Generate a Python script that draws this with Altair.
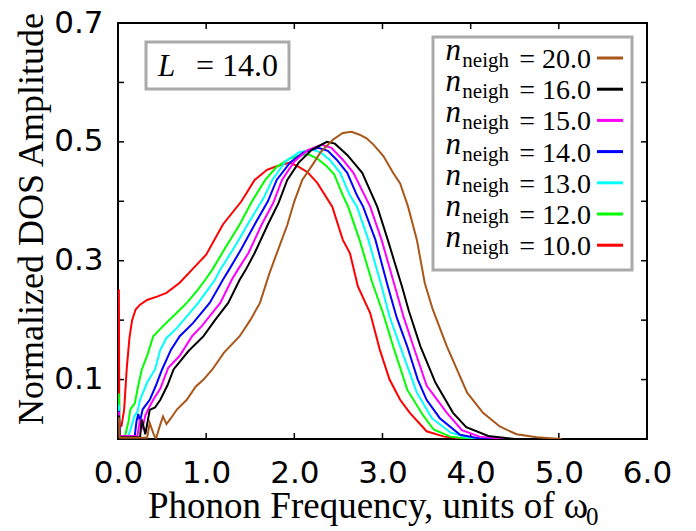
import altair as alt
import pandas as pd

# ---------------- data ----------------
X_N10 = [0.0, 0.01, 0.015, 0.04, 0.07, 0.10, 0.13, 0.16, 0.20, 0.25, 0.33, 0.45, 0.55, 0.70, 0.84, 1.0, 1.19, 1.4, 1.55, 1.69, 1.8, 1.95, 2.05, 2.15, 2.26, 2.43, 2.55, 2.63, 2.72, 2.86, 2.97, 3.08, 3.2, 3.31, 3.5, 3.7, 3.9, 4.1]
Y_N10 = [0.25, 0.25, 0.02, 0.022, 0.05, 0.12, 0.17, 0.20, 0.218, 0.226, 0.234, 0.24, 0.246, 0.263, 0.285, 0.31, 0.361, 0.40, 0.436, 0.453, 0.459, 0.465, 0.458, 0.449, 0.431, 0.391, 0.335, 0.313, 0.257, 0.212, 0.15, 0.100, 0.066, 0.044, 0.013, 0.004, 0.001, 0.0]

X_N12 = [0.0, 0.01, 0.02, 0.08, 0.12, 0.14, 0.19, 0.23, 0.27, 0.33, 0.40, 0.51, 0.67, 0.78, 0.90, 0.99, 1.07, 1.21, 1.38, 1.52, 1.67, 1.80, 1.95, 2.08, 2.16, 2.26, 2.36, 2.45, 2.55, 2.61, 2.74, 2.88, 3.01, 3.12, 3.2, 3.28, 3.46, 3.58, 3.77, 3.95, 4.2]
Y_N12 = [0.075, 0.075, 0.005, 0.005, 0.03, 0.05, 0.06, 0.09, 0.117, 0.14, 0.173, 0.19, 0.213, 0.229, 0.25, 0.268, 0.285, 0.32, 0.361, 0.40, 0.436, 0.458, 0.472, 0.478, 0.479, 0.472, 0.46, 0.446, 0.41, 0.391, 0.335, 0.265, 0.21, 0.156, 0.12, 0.083, 0.04, 0.016, 0.004, 0.001, 0.0]

X_N13 = [0.0, 0.01, 0.02, 0.12, 0.15, 0.19, 0.22, 0.25, 0.33, 0.42, 0.48, 0.55, 0.67, 0.91, 1.10, 1.16, 1.33, 1.47, 1.65, 1.75, 1.90, 2.05, 2.2, 2.3, 2.4, 2.52, 2.63, 2.71, 2.84, 2.99, 3.08, 3.2, 3.39, 3.56, 3.77, 3.95, 4.2]
Y_N13 = [0.056, 0.056, 0.005, 0.005, 0.02, 0.04, 0.045, 0.066, 0.095, 0.117, 0.15, 0.17, 0.187, 0.229, 0.268, 0.285, 0.325, 0.361, 0.405, 0.436, 0.467, 0.482, 0.487, 0.482, 0.47, 0.448, 0.41, 0.391, 0.335, 0.257, 0.206, 0.156, 0.078, 0.035, 0.011, 0.003, 0.0]

X_N14 = [0.0, 0.01, 0.02, 0.19, 0.21, 0.23, 0.25, 0.28, 0.36, 0.43, 0.50, 0.60, 0.70, 0.85, 1.04, 1.19, 1.26, 1.40, 1.55, 1.70, 1.80, 1.95, 2.1, 2.27, 2.38, 2.48, 2.60, 2.71, 2.78, 2.92, 3.06, 3.16, 3.28, 3.4, 3.5, 3.65, 3.88, 4.1, 4.3]
Y_N14 = [0.046, 0.046, 0.005, 0.005, 0.03, 0.042, 0.03, 0.05, 0.066, 0.09, 0.117, 0.15, 0.173, 0.195, 0.229, 0.268, 0.285, 0.32, 0.361, 0.40, 0.436, 0.465, 0.482, 0.49, 0.485, 0.47, 0.448, 0.41, 0.391, 0.335, 0.257, 0.205, 0.156, 0.1, 0.066, 0.035, 0.007, 0.001, 0.0]

X_N15 = [0.0, 0.01, 0.02, 0.22, 0.25, 0.28, 0.31, 0.36, 0.40, 0.48, 0.57, 0.70, 0.84, 0.95, 1.16, 1.29, 1.36, 1.48, 1.63, 1.76, 1.86, 2.0, 2.15, 2.31, 2.42, 2.55, 2.67, 2.86, 2.99, 3.14, 3.24, 3.35, 3.5, 3.73, 3.9, 4.1, 4.4]
Y_N15 = [0.044, 0.044, 0.005, 0.005, 0.033, 0.02, 0.04, 0.055, 0.066, 0.085, 0.12, 0.14, 0.173, 0.19, 0.229, 0.268, 0.285, 0.313, 0.361, 0.397, 0.436, 0.467, 0.486, 0.495, 0.49, 0.47, 0.448, 0.391, 0.335, 0.257, 0.205, 0.156, 0.09, 0.044, 0.015, 0.004, 0.0]

X_N16 = [0.0, 0.01, 0.02, 0.25, 0.27, 0.31, 0.36, 0.42, 0.48, 0.56, 0.63, 0.80, 0.97, 1.10, 1.25, 1.38, 1.45, 1.55, 1.70, 1.82, 1.92, 2.05, 2.2, 2.37, 2.46, 2.6, 2.77, 2.94, 3.06, 3.22, 3.3, 3.43, 3.6, 3.8, 3.95, 4.2, 4.5]
Y_N16 = [0.038, 0.038, 0.003, 0.003, 0.033, 0.008, 0.049, 0.053, 0.066, 0.09, 0.117, 0.148, 0.173, 0.2, 0.229, 0.268, 0.285, 0.313, 0.361, 0.397, 0.436, 0.465, 0.487, 0.50, 0.497, 0.478, 0.448, 0.391, 0.335, 0.257, 0.215, 0.156, 0.095, 0.044, 0.02, 0.005, 0.0]

X_N20 = [0.0, 0.01, 0.02, 0.33, 0.36, 0.40, 0.43, 0.47, 0.51, 0.55, 0.60, 0.67, 0.78, 0.88, 0.97, 1.07, 1.2, 1.38, 1.5, 1.61, 1.72, 1.92, 2.0, 2.09, 2.2, 2.3, 2.44, 2.55, 2.65, 2.74, 2.82, 2.9, 3.01, 3.12, 3.2, 3.29, 3.39, 3.48, 3.57, 3.73, 3.96, 4.14, 4.33, 4.52, 4.75, 5.03]
Y_N20 = [0.035, 0.035, 0.002, 0.002, 0.027, 0.01, 0.0, 0.02, 0.038, 0.025, 0.035, 0.05, 0.066, 0.088, 0.1, 0.117, 0.145, 0.173, 0.2, 0.229, 0.28, 0.36, 0.40, 0.436, 0.46, 0.483, 0.504, 0.515, 0.517, 0.512, 0.506, 0.495, 0.476, 0.448, 0.43, 0.391, 0.335, 0.262, 0.218, 0.156, 0.078, 0.044, 0.021, 0.008, 0.003, 0.0]

# drawing order (first drawn at the bottom)
SERIES_LABELS = ["10.0", "12.0", "13.0", "14.0", "15.0", "16.0", "20.0"]
SERIES_COLORS = ["#ff0000", "#00ff00", "#00ffff", "#0000ff", "#ff00ff", "#000000", "#a8561a"]
SERIES_X = [X_N10, X_N12, X_N13, X_N14, X_N15, X_N16, X_N20]
SERIES_Y = [Y_N10, Y_N12, Y_N13, Y_N14, Y_N15, Y_N16, Y_N20]
LEGEND_ORDER = ["20.0", "16.0", "15.0", "14.0", "13.0", "12.0", "10.0"]

X_LABELS = [0, 1, 2, 3, 4, 5, 6]
Y_LABELS = [0.1, 0.3, 0.5, 0.7]
X_TICKS = [1, 2, 3, 4, 5]
Y_TICKS = [0.1, 0.2, 0.3, 0.4, 0.5, 0.6]

X_TITLE = "Phonon Frequency, units of \u03c9"
X_TITLE_SUB = "0"
Y_TITLE = "Normalized DOS Amplitude"
BOX_L = "L"
BOX_VAL = "= 14.0"

# ---------------- layout ----------------
W, H = 529, 416
SERIF = "Liberation Serif"
SANS = "DejaVu Sans"
TL = 6

xs = alt.Scale(domain=[0, 6], nice=False, zero=False)
ys = alt.Scale(domain=[0, 0.7], nice=False, zero=False)

X_AXIS = alt.Axis(values=X_LABELS, format=".1f", title=None, ticks=False, tickSize=0,
                  domain=False, grid=False, labelFont=SANS, labelFontSize=31,
                  labelPadding=19, labelColor="black", labelFlush=False, labelOverlap=False)
Y_AXIS = alt.Axis(values=Y_LABELS, format=".1f", title=None, ticks=False, tickSize=0,
                  domain=False, grid=False, labelFont=SANS, labelFontSize=31,
                  labelPadding=15, labelColor="black", labelFlush=False, labelOverlap=False)

one = pd.DataFrame({"k": [0]})
layers = []

# tick marks (inward, mirrored)
ytk = pd.DataFrame({"v": Y_TICKS})
xtk = pd.DataFrame({"v": X_TICKS})
layers.append(alt.Chart(ytk).mark_rule(color="black", strokeWidth=1.5).encode(
    y=alt.Y("v:Q", scale=ys, axis=Y_AXIS), x=alt.value(0), x2=alt.value(TL)))
layers.append(alt.Chart(ytk).mark_rule(color="black", strokeWidth=1.5).encode(
    y=alt.Y("v:Q", scale=ys, axis=Y_AXIS), x=alt.value(W - TL), x2=alt.value(W)))
layers.append(alt.Chart(xtk).mark_rule(color="black", strokeWidth=1.5).encode(
    x=alt.X("v:Q", scale=xs, axis=X_AXIS), y=alt.value(H - TL), y2=alt.value(H)))
layers.append(alt.Chart(xtk).mark_rule(color="black", strokeWidth=1.5).encode(
    x=alt.X("v:Q", scale=xs, axis=X_AXIS), y=alt.value(0), y2=alt.value(TL)))

# curves
for lab, col, xv, yv in zip(SERIES_LABELS, SERIES_COLORS, SERIES_X, SERIES_Y):
    df = pd.DataFrame({"x": xv, "y": yv})
    layers.append(alt.Chart(df).mark_line(color=col, strokeWidth=2, clip=True).encode(
        x=alt.X("x:Q", scale=xs, axis=X_AXIS),
        y=alt.Y("y:Q", scale=ys, axis=Y_AXIS),
        order=alt.Order("x:Q")))

# L box
layers.append(alt.Chart(one).mark_rect(fill="white", stroke="#aaaaaa", strokeWidth=3).encode(
    x=alt.value(28), x2=alt.value(171), y=alt.value(19), y2=alt.value(66)))
layers.append(alt.Chart(one).mark_text(text=BOX_L, font=SERIF, fontSize=31, fontStyle="italic",
                                       align="left", baseline="alphabetic", color="black").encode(
    x=alt.value(40), y=alt.value(53)))
layers.append(alt.Chart(one).mark_text(text=BOX_VAL, font=SERIF, fontSize=32,
                                       align="right", baseline="alphabetic", color="black").encode(
    x=alt.value(160), y=alt.value(53)))

# legend box
layers.append(alt.Chart(one).mark_rect(fill="white", stroke="#aaaaaa", strokeWidth=3).encode(
    x=alt.value(315), x2=alt.value(514), y=alt.value(14), y2=alt.value(247)))
color_of = dict(zip(SERIES_LABELS, SERIES_COLORS))
for i, lab in enumerate(LEGEND_ORDER):
    base = 45 + 31.2 * i
    layers.append(alt.Chart(one).mark_text(text="n", font=SERIF, fontSize=31, fontStyle="italic",
                                           align="right", baseline="alphabetic", color="black").encode(
        x=alt.value(343), y=alt.value(base - 8)))
    layers.append(alt.Chart(one).mark_text(text="neigh", font=SERIF, fontSize=21,
                                           align="right", baseline="alphabetic", color="black").encode(
        x=alt.value(391), y=alt.value(base - 1)))
    layers.append(alt.Chart(one).mark_text(text="= " + lab, font=SERIF, fontSize=28,
                                           align="right", baseline="alphabetic", color="black").encode(
        x=alt.value(473), y=alt.value(base)))
    layers.append(alt.Chart(one).mark_rule(color=color_of[lab], strokeWidth=3).encode(
        x=alt.value(479), x2=alt.value(505), y=alt.value(base - 10)))

# axis titles
layers.append(alt.Chart(one).mark_text(text=X_TITLE, font=SERIF, fontSize=37,
                                       align="left", baseline="alphabetic", color="black").encode(
    x=alt.value(30), y=alt.value(495)))
layers.append(alt.Chart(one).mark_text(text=X_TITLE_SUB, font=SERIF, fontSize=25,
                                       align="left", baseline="alphabetic", color="black").encode(
    x=alt.value(468), y=alt.value(502)))
layers.append(alt.Chart(one).mark_text(text=Y_TITLE, font=SERIF, fontSize=36, angle=270,
                                       align="center", baseline="alphabetic", color="black").encode(
    x=alt.value(-75), y=alt.value(196)))

chart = alt.layer(*layers).properties(
    width=W, height=H,
    padding={"left": 118, "top": 23, "right": 49, "bottom": 92},
    autosize=alt.AutoSizeParams(type="none"),
    background="white",
).configure_view(stroke="black", strokeWidth=2)

chart.save("out.html", embed_options={"renderer": "svg", "actions": False})
